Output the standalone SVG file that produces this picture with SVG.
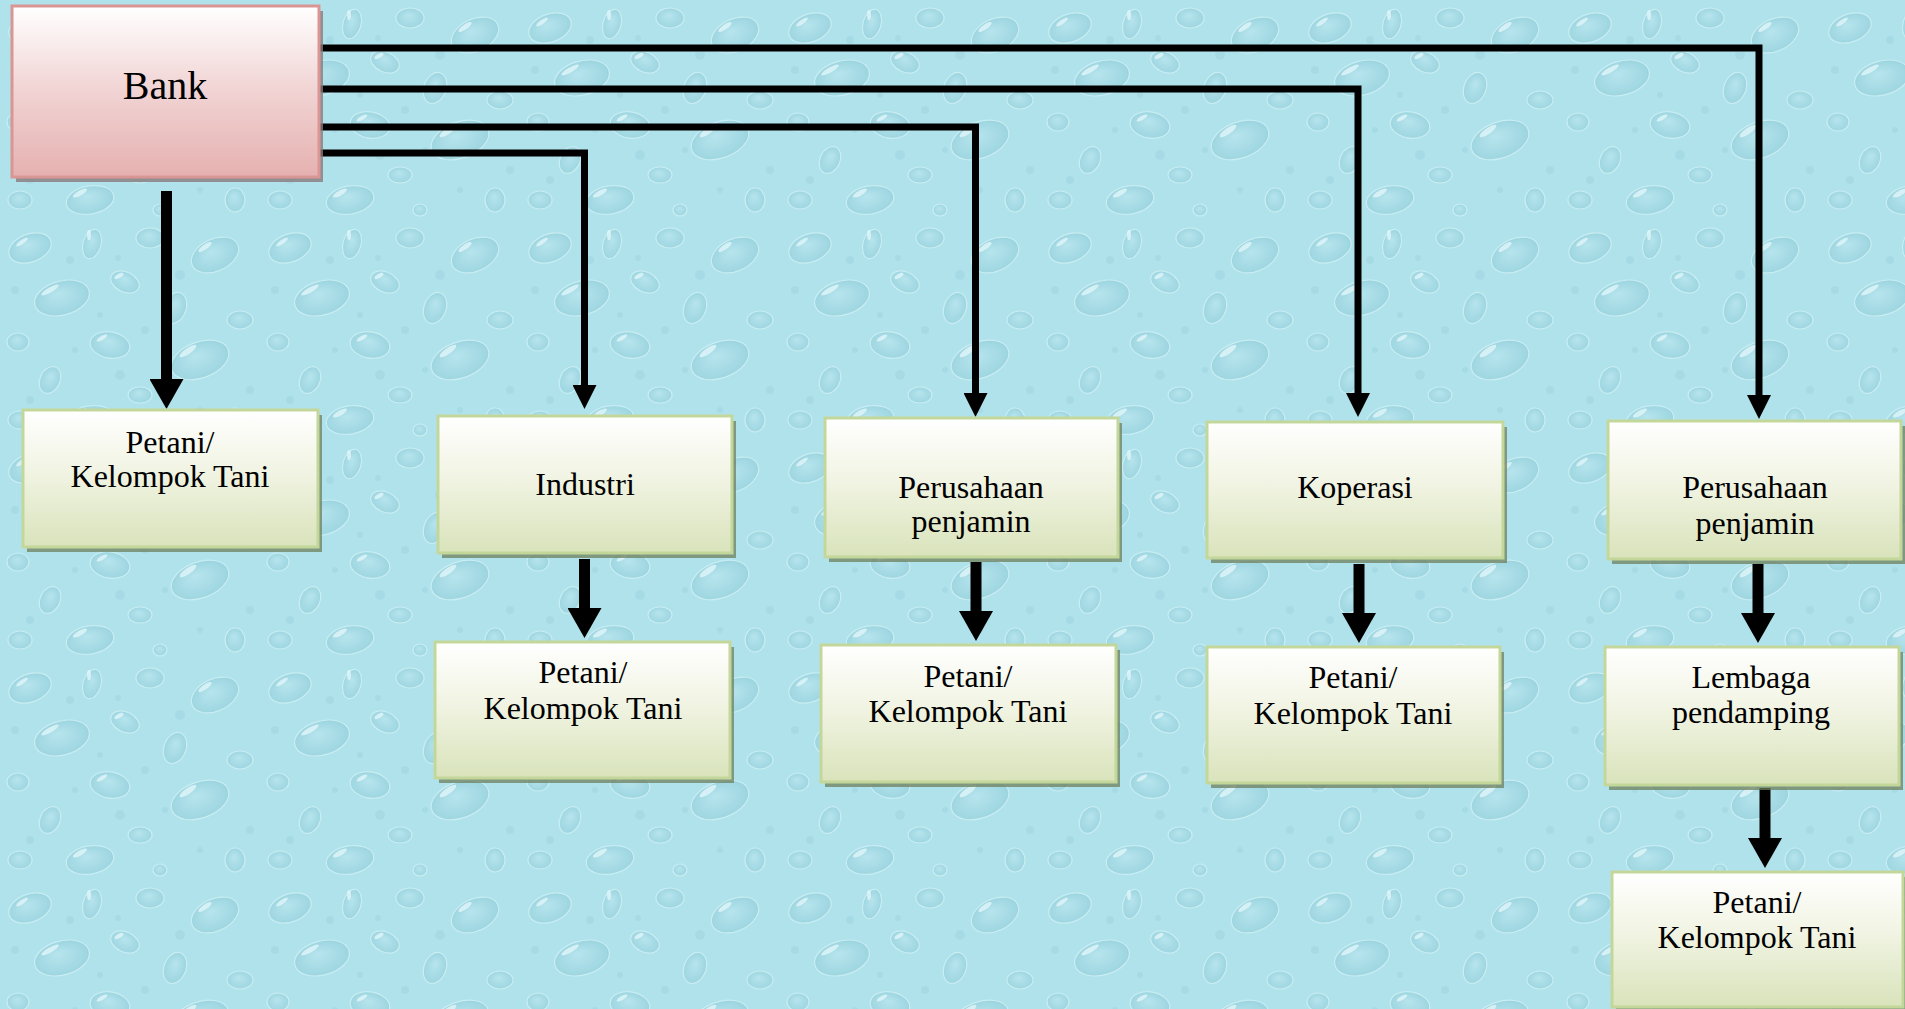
<svg xmlns="http://www.w3.org/2000/svg" width="1905" height="1009" viewBox="0 0 1905 1009">
<style>
.lbl{font-family:"Liberation Serif","Times New Roman",serif;font-size:32px;fill:#000;text-anchor:middle}
.bank{font-size:40px}
.box{fill:url(#gGreen);stroke:#c4d79b;stroke-width:3}
.bbox{fill:url(#gRed);stroke:#d99694;stroke-width:3}
.shd{fill:#6f7f5c;opacity:0.75}
.bshd{fill:#8a7a7a;opacity:0.8}
.thin{fill:none;stroke:#000;stroke-width:7;stroke-linejoin:miter}
.thick{fill:none;stroke:#000;stroke-width:11}
</style>
<defs>
<linearGradient id="gGreen" x1="0" y1="0" x2="0" y2="1">
<stop offset="0" stop-color="#ffffff"/>
<stop offset="0.45" stop-color="#f1f4e3"/>
<stop offset="1" stop-color="#d9e3bb"/>
</linearGradient>
<linearGradient id="gRed" x1="0" y1="0" x2="0" y2="1">
<stop offset="0" stop-color="#ffffff"/>
<stop offset="0.5" stop-color="#f1d3d3"/>
<stop offset="1" stop-color="#e5b1b0"/>
</linearGradient>
<radialGradient id="drop" cx="0.5" cy="0.55" r="0.6" fx="0.45" fy="0.35">
<stop offset="0" stop-color="#b9e5ee"/>
<stop offset="0.75" stop-color="#9dd5e0"/>
<stop offset="1" stop-color="#8ac8d6"/>
</radialGradient>
<pattern id="water" x="0" y="0" width="260" height="220" patternUnits="userSpaceOnUse">
<rect width="260" height="220" fill="#b0e2eb"/>
<g fill="url(#drop)" stroke="#cdeff4" stroke-width="1.2" opacity="0.85">
<ellipse cx="30" cy="28" rx="22" ry="14" transform="rotate(-20 30 28)"/>
<ellipse cx="92" cy="24" rx="9" ry="15" transform="rotate(15 92 24)"/>
<ellipse cx="150" cy="18" rx="14" ry="10"/>
<ellipse cx="215" cy="35" rx="25" ry="16" transform="rotate(-25 215 35)"/>
<ellipse cx="125" cy="62" rx="15" ry="10" transform="rotate(25 125 62)"/>
<ellipse cx="62" cy="78" rx="28" ry="17" transform="rotate(-15 62 78)"/>
<ellipse cx="175" cy="88" rx="11" ry="16" transform="rotate(20 175 88)"/>
<ellipse cx="240" cy="100" rx="13" ry="9"/>
<ellipse cx="18" cy="122" rx="11" ry="9"/>
<ellipse cx="110" cy="125" rx="20" ry="13" transform="rotate(10 110 125)"/>
<ellipse cx="200" cy="140" rx="30" ry="18" transform="rotate(-20 200 140)"/>
<ellipse cx="50" cy="160" rx="10" ry="14" transform="rotate(25 50 160)"/>
<ellipse cx="140" cy="175" rx="12" ry="8"/>
<ellipse cx="90" cy="200" rx="24" ry="14" transform="rotate(-10 90 200)"/>
<ellipse cx="235" cy="200" rx="10" ry="12"/>
<ellipse cx="20" cy="200" rx="12" ry="9"/>
<ellipse cx="160" cy="210" rx="7" ry="6"/>
</g>
<g fill="#a2d8e3" opacity="0.7">
<circle cx="70" cy="40" r="4"/><circle cx="118" cy="38" r="3"/><circle cx="180" cy="55" r="5"/>
<circle cx="15" cy="70" r="4"/><circle cx="100" cy="95" r="3"/><circle cx="145" cy="110" r="4"/>
<circle cx="75" cy="130" r="3"/><circle cx="165" cy="150" r="3"/><circle cx="30" cy="180" r="4"/>
<circle cx="120" cy="155" r="5"/><circle cx="250" cy="170" r="4"/><circle cx="200" cy="190" r="3"/>
</g>
<g fill="#e6f8fb" opacity="0.75">
<ellipse cx="22" cy="22" rx="7" ry="2" transform="rotate(-35 22 22)"/>
<ellipse cx="89" cy="15" rx="2" ry="5"/>
<ellipse cx="205" cy="27" rx="8" ry="2.5" transform="rotate(-35 205 27)"/>
<ellipse cx="119" cy="56" rx="5" ry="2" transform="rotate(-30 119 56)"/>
<ellipse cx="50" cy="70" rx="10" ry="2.5" transform="rotate(-30 50 70)"/>
<ellipse cx="102" cy="118" rx="6" ry="2" transform="rotate(-30 102 118)"/>
<ellipse cx="188" cy="131" rx="10" ry="3" transform="rotate(-35 188 131)"/>
<ellipse cx="80" cy="193" rx="8" ry="2.5" transform="rotate(-30 80 193)"/>
</g>
</pattern>
<marker id="ahS" markerUnits="userSpaceOnUse" markerWidth="24" markerHeight="24" viewBox="0 0 24 24" refX="0" refY="12" orient="auto">
<path d="M0,0 L24,12 L0,24 Z" fill="#000"/>
</marker>
<marker id="ahL" markerUnits="userSpaceOnUse" markerWidth="30" markerHeight="34" viewBox="0 0 30 34" refX="0" refY="17" orient="auto">
<path d="M0,0 L30,17 L0,34 Z" fill="#000"/>
</marker>
</defs>
<rect width="1905" height="1009" fill="url(#water)"/>

<g id="connectors">
<path class="thin" d="M319,48 H1759 V395" marker-end="url(#ahS)"/>
<path class="thin" d="M319,89 H1358 V393" marker-end="url(#ahS)"/>
<path class="thin" d="M319,127 H975.5 V393" marker-end="url(#ahS)"/>
<path class="thin" d="M319,153 H584.5 V385" marker-end="url(#ahS)"/>
<path class="thick" d="M166.5,191 V379" marker-end="url(#ahL)"/>
<path class="thick" d="M584.5,559 V608" marker-end="url(#ahL)"/>
<path class="thick" d="M976,562 V611" marker-end="url(#ahL)"/>
<path class="thick" d="M1359,564 V613" marker-end="url(#ahL)"/>
<path class="thick" d="M1758,564 V613" marker-end="url(#ahL)"/>
<path class="thick" d="M1765,788 V838" marker-end="url(#ahL)"/>
</g>

<g id="bank">
<rect class="bshd" x="16" y="11" width="307" height="171"/>
<rect class="bbox" x="12" y="6" width="307" height="171"/>
<text class="lbl bank" x="165" y="99">Bank</text>
</g>

<g id="petani1">
<rect class="shd" x="27" y="415" width="295" height="137"/>
<rect class="box" x="23" y="410" width="295" height="137"/>
<text class="lbl" x="170" y="453">Petani/</text>
<text class="lbl" x="170" y="487">Kelompok Tani</text>
</g>

<g id="industri">
<rect class="shd" x="442" y="421" width="294" height="137"/>
<rect class="box" x="438" y="416" width="294" height="137"/>
<text class="lbl" x="585" y="495">Industri</text>
</g>

<g id="perusahaan1">
<rect class="shd" x="829" y="423" width="293" height="139"/>
<rect class="box" x="825" y="418" width="293" height="139"/>
<text class="lbl" x="971" y="498">Perusahaan</text>
<text class="lbl" x="971" y="532">penjamin</text>
</g>

<g id="koperasi">
<rect class="shd" x="1211" y="427" width="296" height="136"/>
<rect class="box" x="1207" y="422" width="296" height="136"/>
<text class="lbl" x="1355" y="498">Koperasi</text>
</g>

<g id="perusahaan2">
<rect class="shd" x="1612" y="426" width="293" height="138"/>
<rect class="box" x="1608" y="421" width="293" height="138"/>
<text class="lbl" x="1755" y="498">Perusahaan</text>
<text class="lbl" x="1755" y="534">penjamin</text>
</g>

<g id="petani2">
<rect class="shd" x="439" y="647" width="295" height="136"/>
<rect class="box" x="435" y="642" width="295" height="136"/>
<text class="lbl" x="583" y="683">Petani/</text>
<text class="lbl" x="583" y="719">Kelompok Tani</text>
</g>

<g id="petani3">
<rect class="shd" x="825" y="650" width="295" height="137"/>
<rect class="box" x="821" y="645" width="295" height="137"/>
<text class="lbl" x="968" y="687">Petani/</text>
<text class="lbl" x="968" y="722">Kelompok Tani</text>
</g>

<g id="petani4">
<rect class="shd" x="1211" y="652" width="293" height="136"/>
<rect class="box" x="1207" y="647" width="293" height="136"/>
<text class="lbl" x="1353" y="688">Petani/</text>
<text class="lbl" x="1353" y="724">Kelompok Tani</text>
</g>

<g id="lembaga">
<rect class="shd" x="1609" y="652" width="294" height="138"/>
<rect class="box" x="1605" y="647" width="294" height="138"/>
<text class="lbl" x="1751" y="688">Lembaga</text>
<text class="lbl" x="1751" y="723">pendamping</text>
</g>

<g id="petani5">
<rect class="shd" x="1616" y="877" width="291" height="135"/>
<rect class="box" x="1612" y="872" width="291" height="135"/>
<text class="lbl" x="1757" y="913">Petani/</text>
<text class="lbl" x="1757" y="948">Kelompok Tani</text>
</g>
</svg>
